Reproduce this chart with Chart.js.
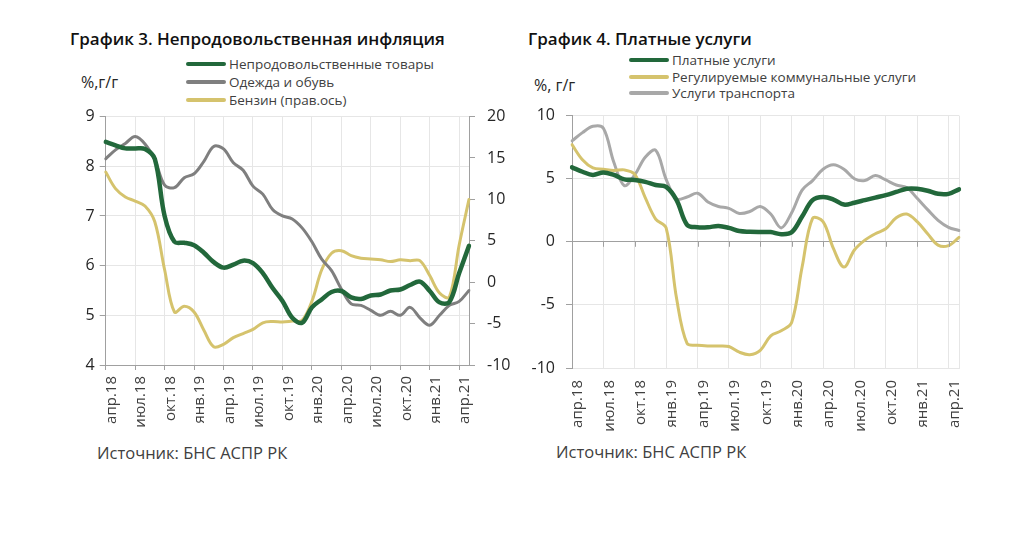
<!DOCTYPE html>
<html>
<head>
<meta charset="utf-8">
<script src="https://cdn.jsdelivr.net/npm/chart.js@4.4.1/dist/chart.umd.min.js"></script>
<style>
html,body{margin:0;padding:0;background:#fff;width:1024px;height:535px;overflow:hidden;font-family:'Open Sans',sans-serif;}
.abs{position:absolute;white-space:nowrap;}
.title{font-size:17px;font-weight:600;color:#111;line-height:22px;}
.unit{font-size:16px;color:#262626;line-height:20px;}
.src{font-size:16.5px;color:#404040;line-height:20px;}
.legrow{position:absolute;white-space:nowrap;font-size:13.5px;color:#404040;line-height:16px;height:16px;}
.legrow .sw{position:absolute;left:0;top:6px;width:40px;height:4px;border-radius:2px;}
.legrow .tx{position:absolute;left:43px;top:0;}
canvas{position:absolute;}
</style>
</head>
<body>
<div class="abs title" style="left:70px;top:28px;">График 3. Непродовольственная инфляция</div>
<div class="abs title" style="left:528px;top:28px;">График 4. Платные услуги</div>
<div class="abs unit" style="left:81px;top:72px;">%,г/г</div>
<div class="abs unit" style="left:534px;top:75px;">%, г/г</div>
<div class="abs src" style="left:97px;top:443px;">Источник: БНС АСПР РК</div>
<div class="abs src" style="left:556px;top:442px;">Источник: БНС АСПР РК</div>
<div id="leg3"></div>
<div id="leg4"></div>
<canvas id="c3" width="480" height="350" style="left:40px;top:95px;width:480px;height:350px;"></canvas>
<canvas id="c4" width="490" height="350" style="left:500px;top:95px;width:490px;height:350px;"></canvas>
<script>
// ---- categories (monthly, Apr 2018 - May 2021) ----
const months = ['апр.18','май.18','июн.18','июл.18','авг.18','сен.18','окт.18','ноя.18','дек.18',
  'янв.19','фев.19','мар.19','апр.19','май.19','июн.19','июл.19','авг.19','сен.19','окт.19','ноя.19','дек.19',
  'янв.20','фев.20','мар.20','апр.20','май.20','июн.20','июл.20','авг.20','сен.20','окт.20','ноя.20','дек.20',
  'янв.21','фев.21','мар.21','апр.21','май.21'];
const labelStep = 3;

// ---- Chart 3: non-food inflation, % y/y ----
const names3 = ['Непродовольственные товары','Одежда и обувь','Бензин (прав.ось)'];
const nonFood = [8.49,8.42,8.36,8.36,8.35,8.15,7.0,6.48,6.46,6.41,6.26,6.07,5.96,6.02,6.10,6.05,5.85,5.55,5.29,4.95,
  4.85,5.16,5.32,5.47,5.49,5.36,5.33,5.40,5.42,5.50,5.52,5.61,5.68,5.49,5.26,5.27,5.85,6.40];
const clothes = [8.15,8.33,8.46,8.60,8.45,8.13,7.62,7.57,7.77,7.85,8.10,8.40,8.35,8.07,7.92,7.60,7.44,7.13,7.00,6.94,
  6.76,6.48,6.13,5.90,5.53,5.23,5.20,5.10,5.00,5.08,5.00,5.16,4.95,4.80,5.00,5.20,5.28,5.50];
const petrol = [13.3,11.3,10.3,9.8,9.2,7.3,1.5,-3.6,-2.9,-3.6,-5.8,-7.8,-7.5,-6.7,-6.2,-5.7,-4.9,-4.75,-4.8,-4.7,
  -4.6,-2.3,1.5,3.5,3.8,3.2,2.9,2.8,2.7,2.5,2.7,2.6,2.6,0.8,-1.3,-1.8,4.5,10.0];
const leftAxis3 = {min:4, max:9, step:1};
const rightAxis3 = {min:-10, max:20, step:5};

// ---- Chart 4: paid services, % y/y ----
const names4 = ['Платные услуги','Регулируемые коммунальные услуги','Услуги транспорта'];
const paidServices = [5.9,5.55,5.3,5.5,5.3,4.95,4.9,4.75,4.5,4.35,3.3,1.35,1.15,1.15,1.25,1.1,0.85,0.8,0.78,0.77,
  0.6,0.75,2.0,3.3,3.55,3.35,2.95,3.1,3.3,3.5,3.7,3.95,4.2,4.2,4.05,3.8,3.8,4.15];
const regulatedUtilities = [7.7,6.5,5.85,5.75,5.65,5.7,5.35,3.5,1.8,1.1,-4.5,-8.05,-8.2,-8.25,-8.25,-8.3,-8.75,-8.95,-8.6,-7.45,
  -7.05,-6.4,-2.0,1.85,1.6,-0.55,-2.0,-0.65,0.13,0.64,1.03,1.9,2.2,1.6,0.64,-0.26,-0.3,0.35];
const transportServices = [8.0,8.65,9.15,9.0,6.3,4.45,5.3,6.7,7.25,4.95,3.4,3.55,3.85,3.15,2.8,2.65,2.25,2.4,2.8,2.2,
  1.1,2.3,4.1,4.85,5.75,6.1,5.75,5.0,4.85,5.25,4.9,4.5,4.3,3.45,2.55,1.7,1.15,0.9];
const axis4 = {min:-10, max:10, step:5};

// ---- styles ----
const GREEN = '#22683b', GRAY = '#7f7f7f', KHAKI = '#d5c36d', LGRAY = '#a8a8a8';
const GRID = '#e6e6e6', AXIS = '#a0a0a0', CLEAR = 'rgba(0,0,0,0)';
Chart.defaults.font.family = "'Open Sans', sans-serif";

function legend(id, left, tops, names, colors) {
  const host = document.getElementById(id);
  names.forEach((n, i) => {
    const r = document.createElement('div');
    r.className = 'legrow';
    r.style.left = left + 'px';
    r.style.top = (tops[i] - 8) + 'px';
    r.innerHTML = '<span class="sw" style="background:' + colors[i] + '"></span><span class="tx"></span>';
    r.querySelector('.tx').textContent = n;
    host.appendChild(r);
  });
}
legend('leg3', 186, [64, 82, 100], names3, [GREEN, GRAY, KHAKI]);
legend('leg4', 629, [60, 77, 93], names4, [GREEN, KHAKI, LGRAY]);

const common = {
  responsive: false,
  animation: false,
  events: [],
  elements: { point: { radius: 0 }, line: { tension: 0.35, borderCapStyle: 'round', borderJoinStyle: 'round' } },
  plugins: { legend: { display: false }, tooltip: { enabled: false } }
};

new Chart(document.getElementById('c3'), {
  type: 'line',
  data: {
    labels: months,
    datasets: [
      { label: names3[1], data: clothes, borderColor: GRAY, borderWidth: 3, yAxisID: 'y', order: 2 },
      { label: names3[2], data: petrol, borderColor: KHAKI, borderWidth: 3, yAxisID: 'y1', order: 3 },
      { label: names3[0], data: nonFood, borderColor: GREEN, borderWidth: 4.5, yAxisID: 'y', order: 1 }
    ]
  },
  options: Object.assign({}, common, {
    layout: { padding: { top: 12, left: 0, right: 0, bottom: 0 } },
    scales: {
      x: {
        type: 'category', offset: false,
        grid: {
          color: c => (c.index % labelStep === 0 ? GRID : CLEAR),
          tickColor: c => (c.index % labelStep === 0 ? AXIS : CLEAR),
          tickLength: 5
        },
        border: { color: AXIS },
        ticks: {
          autoSkip: false, maxRotation: 90, minRotation: 90, padding: 6, labelOffset: 6,
          color: '#404040', font: { size: 15 },
          callback: (v, i) => (i % labelStep === 0 ? months[i] : '')
        },
        afterFit: s => { s.height = 80; }
      },
      y: {
        position: 'left', min: leftAxis3.min, max: leftAxis3.max,
        ticks: { stepSize: leftAxis3.step, padding: 5, color: '#262626', font: { size: 16 } },
        grid: { color: GRID, tickColor: AXIS, tickLength: 6 },
        border: { color: AXIS },
        afterFit: s => { s.width = 65.7; }
      },
      y1: {
        position: 'right', min: rightAxis3.min, max: rightAxis3.max,
        ticks: { stepSize: rightAxis3.step, padding: 12, color: '#262626', font: { size: 16 } },
        grid: { drawOnChartArea: false, tickColor: AXIS, tickLength: 6 },
        border: { color: AXIS },
        afterFit: s => { s.width = 51; }
      }
    }
  })
});

const zeroTicks = {
  id: 'zeroTicks',
  afterDatasetsDraw(chart) {
    const x = chart.scales.x, y = chart.scales.y, ctx = chart.ctx;
    const y0 = y.getPixelForValue(0);
    ctx.save();
    ctx.strokeStyle = AXIS; ctx.lineWidth = 1;
    ctx.beginPath();
    for (let i = labelStep; i < months.length - 1; i += labelStep) {
      const px = Math.round(x.getPixelForValue(i)) + 0.5;
      ctx.moveTo(px, y0); ctx.lineTo(px, y0 + 5);
    }
    ctx.stroke();
    ctx.restore();
  }
};

new Chart(document.getElementById('c4'), {
  type: 'line',
  data: {
    labels: months,
    datasets: [
      { label: names4[2], data: transportServices, borderColor: LGRAY, borderWidth: 3, order: 3 },
      { label: names4[1], data: regulatedUtilities, borderColor: KHAKI, borderWidth: 3, order: 2 },
      { label: names4[0], data: paidServices, borderColor: GREEN, borderWidth: 4.5, order: 1 }
    ]
  },
  plugins: [zeroTicks],
  options: Object.assign({}, common, {
    layout: { padding: { top: 12, left: 0, right: 31, bottom: 0 } },
    scales: {
      x: {
        type: 'category', offset: false,
        grid: {
          color: c => ((c.index % labelStep === 0 || c.index === months.length - 1) ? GRID : CLEAR),
          drawTicks: false
        },
        border: { color: GRID },
        ticks: {
          autoSkip: false, maxRotation: 90, minRotation: 90, padding: 12, labelOffset: 6,
          color: '#404040', font: { size: 15 },
          callback: (v, i) => (i % labelStep === 0 ? months[i] : '')
        },
        afterFit: s => { s.height = 77; }
      },
      y: {
        position: 'left', min: axis4.min, max: axis4.max,
        ticks: { stepSize: axis4.step, padding: 11, color: '#262626', font: { size: 16 } },
        grid: { color: c => (c.tick && c.tick.value === 0 ? AXIS : GRID), tickColor: AXIS, tickLength: 6 },
        border: { color: AXIS },
        afterFit: s => { s.width = 72; }
      }
    }
  })
});
</script>
</body>
</html>
